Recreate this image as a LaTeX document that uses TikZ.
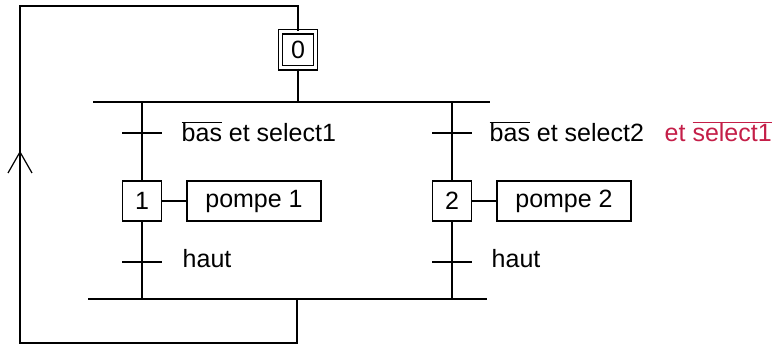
\documentclass[tikz,border=0pt]{standalone}
\usepackage{fontspec}
\setmainfont{Liberation Sans}
\usetikzlibrary{calc}
\definecolor{crimsonred}{RGB}{196,30,72}
\begin{document}
\begin{tikzpicture}[x=1pt,y=-1pt,line width=1.4pt,
  lbl/.style={font=\fontsize{25}{28}\selectfont, anchor=west, inner sep=0pt},
  stepbox/.style={draw, minimum width=39, minimum height=40, inner sep=0pt, font=\fontsize{25}{28}\selectfont},
  actbox/.style={draw, minimum width=134, minimum height=40, inner sep=0pt, font=\fontsize{25}{28}\selectfont},
  initbox/.style={draw, double, double distance=3pt, line width=1.3pt, minimum width=35, minimum height=36, inner sep=0pt, font=\fontsize{25}{28}\selectfont}]
\useasboundingbox (0,0) rectangle (777,347);
% initial step
\node[initbox] (s0) at (298,50) {0};
% divergence bar
\coordinate (dl) at (93,102);
\coordinate (dr) at (490,102);
\coordinate (dm) at (298,102);
\draw (dl) -- (dr);
\draw (s0.south) -- (dm);
% convergence bar
\coordinate (cl) at (88,299);
\coordinate (cr) at (487,299);
\coordinate (cm) at (297,299);
\draw (cl) -- (cr);
% branch 1
\coordinate (b1t) at (142,102);
\coordinate (b1b) at (142,299);
\node[stepbox] (s1) at (142,201) {1};
\node[actbox] (a1) at (254,201) {pompe 1};
\draw (b1t) -- (s1.north);
\draw (s1.south) -- (b1b);
\draw (s1.east) -- (a1.west);
\coordinate (t1a) at (122,133); \coordinate (t1b) at (162,133);
\draw (t1a) -- (t1b);
\coordinate (t3a) at (122,262); \coordinate (t3b) at (162,262);
\draw (t3a) -- (t3b);
\node[lbl] (l1) at (181,132) {$\overline{\hbox{bas}}$ et select1};
\node[lbl] (l3) at (182,259) {haut};
% branch 2
\coordinate (b2t) at (452,102);
\coordinate (b2b) at (452,299);
\node[stepbox] (s2) at (452,201) {2};
\node[actbox] (a2) at (564,201) {pompe 2};
\draw (b2t) -- (s2.north);
\draw (s2.south) -- (b2b);
\draw (s2.east) -- (a2.west);
\coordinate (t2a) at (432,133); \coordinate (t2b) at (472,133);
\draw (t2a) -- (t2b);
\coordinate (t4a) at (432,262); \coordinate (t4b) at (472,262);
\draw (t4a) -- (t4b);
\node[lbl] (l2) at (489,132) {$\overline{\hbox{bas}}$ et select2};
\node[lbl, text=crimsonred] (l2r) at (664,132) {et $\overline{\hbox{select1}}$};
\node[lbl] (l4) at (491,259) {haut};
% loop back
\coordinate (lb1) at (297,343);
\coordinate (lb2) at (20,343);
\coordinate (lt1) at (20,6);
\coordinate (lt2) at (298,6);
\draw (cm) -- (lb1) -- (lb2) -- (lt1) -- (lt2) -- (s0.north);
% upward chevron arrow
\coordinate (ar) at (20,152);
\draw[line width=1.2pt] ($(ar)+(-12,21)$) -- (ar) -- ($(ar)+(12,21)$);
\end{tikzpicture}
\end{document}
